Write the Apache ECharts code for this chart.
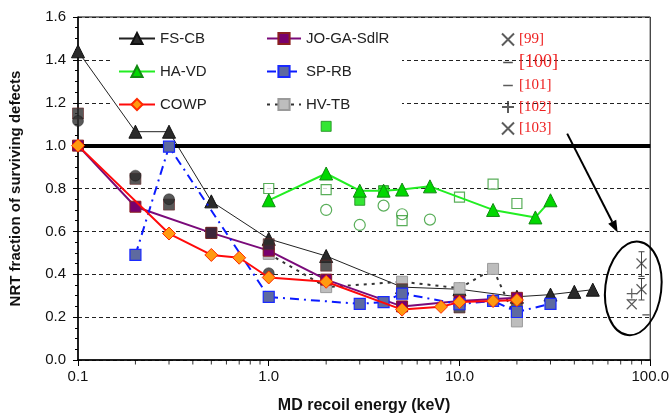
<!DOCTYPE html>
<html><head><meta charset="utf-8">
<script src="https://cdn.jsdelivr.net/npm/echarts@6/dist/echarts.min.js"></script>
<style>html,body{margin:0;padding:0;background:#fff}#c{width:672px;height:419px}</style>
</head><body><div id="c"></div>
<script>
// ---- data (energy keV, NRT fraction) ----
const fsCbE = [0.1, 0.2, 0.3, 0.5, 1, 2, 5, 10, 20, 30, 40, 50];
const fsCbV = [1.44, 1.065, 1.065, 0.74, 0.565, 0.485, 0.34, 0.33, 0.295, 0.305, 0.318, 0.328];
const haVdE = [1, 2, 3, 4, 5, 7, 15, 25, 30];
const haVdV = [0.745, 0.87, 0.79, 0.79, 0.795, 0.81, 0.70, 0.665, 0.745];
const cowpE = [0.1, 0.3, 0.5, 0.7, 1, 2, 5, 8, 10, 15, 20];
const cowpV = [1.0, 0.59, 0.49, 0.477, 0.385, 0.365, 0.235, 0.248, 0.27, 0.275, 0.28];
const joGaE = [0.1, 0.2, 0.5, 1, 2, 5, 10, 20];
const joGaV = [1.0, 0.715, 0.593, 0.51, 0.375, 0.25, 0.275, 0.29];
const spRbE = [0.2, 0.3, 1, 3, 4, 5, 10, 15, 20, 30];
const spRbV = [0.49, 0.995, 0.294, 0.262, 0.27, 0.31, 0.26, 0.276, 0.224, 0.262];
const hvTbE = [1, 2, 5, 10, 15, 20];
const hvTbV = [0.495, 0.34, 0.365, 0.335, 0.425, 0.18];
// unlabelled data sets
const blackSqE = [0.1, 0.2, 0.3, 0.5, 1, 2, 5, 10, 20];
const blackSqV = [1.15, 0.845, 0.725, 0.593, 0.54, 0.44, 0.33, 0.245, 0.25];
const blackCircE = [0.1, 0.2, 0.3, 1];
const blackCircV = [1.115, 0.86, 0.75, 0.405];
const greenOpenSqE = [1, 2, 5, 10, 15, 20];
const greenOpenSqV = [0.80, 0.795, 0.65, 0.76, 0.82, 0.73];
const greenFillSqE = [2, 3, 4];
const greenFillSqV = [1.09, 0.745, 0.79];
const greenCircE = [2, 3, 4, 5, 7];
const greenCircV = [0.70, 0.63, 0.72, 0.68, 0.655];
// literature references
const ref99E = [90]; const ref99V = [0.45];
const ref100E = [80, 95]; const ref100V = [0.28, 0.21];
const ref101E = [90]; const ref101V = [0.38];
const ref102E = [80]; const ref102V = [0.31];
const ref103E = [90, 80]; const ref103V = [0.33, 0.26];
const errE = [90, 90]; const errLo = [0.39, 0.28]; const errHi = [0.505, 0.38];
// axes
const xMinorTicks = [0.2,0.3,0.4,0.5,0.6,0.7,0.8,0.9,2,3,4,5,6,7,8,9,20,30,40,50,60,70,80,90];
const refLineValue = 1.0;
const ellipseCenter = [81.5, 0.334];
const arrowFrom = [36.7, 1.056];
const arrowTo = [67.5, 0.595];

const pts = (xs, ys) => xs.map((x, i) => [x, ys[i]]);
const FONT = 'Liberation Sans, Arial, sans-serif';
const SERIF = 'Liberation Serif, Times New Roman, serif';
const CROSS = 'path://M0,0L10,10M10,0L0,10';
const PLUS = 'path://M5,0L5,10M0,5L10,5';
// horizontal dash inside a square bounding box (tiny corner dots keep the aspect)
const DASH = 'path://M1,4.3h8v1.4h-8zM0,0h0.01v0.01h-0.01zM9.99,9.99h0.01v0.01h-0.01z';

const chart = echarts.init(document.getElementById('c'), null, {renderer: 'canvas'});
const option = {
  animation: false,
  backgroundColor: '#fff',
  grid: {left: 78, right: 21, top: 17, bottom: 58, show: true, borderColor: '#000', borderWidth: 1, backgroundColor: 'transparent'},
  xAxis: {
    type: 'log', logBase: 10, min: 0.1, max: 100, splitNumber: 3,
    name: 'MD recoil energy (keV)', nameLocation: 'middle', nameGap: 38,
    nameTextStyle: {fontFamily: FONT, fontWeight: 'bold', fontSize: 16, color: '#111'},
    axisLine: {show: true, lineStyle: {color: '#000', width: 1.5}},
    axisTick: {show: true, length: 6, lineStyle: {color: '#000', width: 1}},
    minorTick: {show: false},
    axisLabel: {fontFamily: FONT, fontSize: 15, color: '#111', margin: 9, formatter: v => Number(v).toFixed(1)},
    splitLine: {show: false}
  },
  yAxis: {
    type: 'value', min: 0, max: 1.6, interval: 0.2,
    name: 'NRT fraction of surviving defects', nameLocation: 'middle', nameGap: 55,
    nameTextStyle: {fontFamily: FONT, fontWeight: 'bold', fontSize: 15, color: '#111'},
    axisLine: {show: true, lineStyle: {color: '#000', width: 1.5}},
    axisTick: {show: true, length: 5, lineStyle: {color: '#000'}},
    minorTick: {show: true, splitNumber: 4, length: 3, lineStyle: {color: '#000'}},
    minorSplitLine: {show: false},
    axisLabel: {fontFamily: FONT, fontSize: 15, color: '#111', margin: 12, formatter: v => Number(v).toFixed(1)},
    splitLine: {show: true, lineStyle: {color: '#222', width: 1.2, type: [4, 3]}}
  },
  legend: [
    {orient: 'vertical', left: 118, top: 31, padding: 0, itemWidth: 36, itemHeight: 14, itemGap: 18,
     data: ['FS-CB', 'HA-VD', 'COWP'],
     textStyle: {fontFamily: FONT, fontSize: 15, color: '#222', lineHeight: 14}},
    {orient: 'vertical', left: 266, top: 31, padding: 0, itemWidth: 34, itemHeight: 14, itemGap: 18,
     data: ['JO-GA-SdlR', 'SP-RB', 'HV-TB'],
     textStyle: {fontFamily: FONT, fontSize: 15, color: '#222', lineHeight: 14}},
    {orient: 'vertical', left: 501, top: 32, padding: 0, itemWidth: 12, itemHeight: 12, itemGap: 6.5,
     data: ['[99]', '[100]', '[101]', '[102]', '[103]'],
     formatter: n => n === '[100]' ? '{big|' + n + '}' : n,
     textStyle: {fontFamily: SERIF, fontSize: 15, color: '#ee2020', lineHeight: 12,
       rich: {big: {fontFamily: SERIF, fontSize: 18, color: '#ee2020', lineHeight: 12}}}}
  ],
  series: [
    {name: 'xminor', type: 'scatter', data: xMinorTicks.map(v => [v, 0]), symbol: 'rect', symbolSize: [1, 4],
     symbolOffset: [0, 2.5], itemStyle: {color: '#000'}, silent: true, clip: false, z: 10},
    {name: 'greenOpenSq', type: 'scatter', data: pts(greenOpenSqE, greenOpenSqV), symbol: 'rect', symbolSize: 10,
     itemStyle: {color: '#fff', borderColor: '#2f9a2f', borderWidth: 1.2}, z: 2},
    {name: 'greenCirc', type: 'scatter', data: pts(greenCircE, greenCircV), symbol: 'circle', symbolSize: 11,
     itemStyle: {color: 'transparent', borderColor: '#2f9a2f', borderWidth: 1.2}, z: 2},
    {name: 'greenFillSq', type: 'scatter', data: pts(greenFillSqE, greenFillSqV), symbol: 'rect', symbolSize: 10,
     itemStyle: {color: '#00e000', borderColor: '#1a8a1a', borderWidth: 1}, z: 2},
    {name: 'HA-VD', type: 'line', data: pts(haVdE, haVdV), symbol: 'triangle', symbolSize: 13, showAllSymbol: true,
     lineStyle: {color: '#22ee22', width: 2}, itemStyle: {color: '#00d800', borderColor: '#118811', borderWidth: 1}, z: 3},
    {name: 'FS-CB', type: 'line', data: pts(fsCbE, fsCbV), symbol: 'triangle', symbolSize: 13, showAllSymbol: true,
     lineStyle: {color: '#222', width: 1}, itemStyle: {color: '#2a2a2a', borderColor: '#111', borderWidth: 1}, z: 3,
     markLine: {silent: true, symbol: 'none', label: {show: false},
       lineStyle: {color: '#000', width: 4, type: 'solid'}, data: [{yAxis: refLineValue}]}},
    {name: 'HV-TB', type: 'line', data: pts(hvTbE, hvTbV), symbol: 'rect', symbolSize: 11, showAllSymbol: true,
     lineStyle: {color: '#333', width: 2, type: [3, 5]}, itemStyle: {color: '#bdbdbd', borderColor: '#9a9a9a', borderWidth: 1}, z: 4},
    {name: 'JO-GA-SdlR', type: 'line', data: pts(joGaE, joGaV), symbol: 'rect', symbolSize: 11, showAllSymbol: true,
     lineStyle: {color: '#7a0a7a', width: 2}, itemStyle: {color: '#78006e', borderColor: '#8b2020', borderWidth: 1}, z: 5},
    {name: 'blackSq', type: 'scatter', data: pts(blackSqE, blackSqV), symbol: 'rect', symbolSize: 11,
     itemStyle: {color: '#2e2e2e', borderColor: '#6a2a2a', borderWidth: 0.8}, z: 6},
    {name: 'blackCirc', type: 'scatter', data: pts(blackCircE, blackCircV), symbol: 'circle', symbolSize: 11,
     itemStyle: {color: '#2e2e2e', borderColor: '#111', borderWidth: 0.5}, z: 6},
    {name: 'SP-RB', type: 'line', data: pts(spRbE, spRbV), symbol: 'rect', symbolSize: 11, showAllSymbol: true,
     lineStyle: {color: '#0a1aff', width: 2, type: [9, 5, 2, 5]}, itemStyle: {color: '#5e6aa0', borderColor: '#1a2aff', borderWidth: 1.2}, z: 7},
    {name: 'COWP', type: 'line', data: pts(cowpE, cowpV), symbol: 'diamond', symbolSize: 13, showAllSymbol: true,
     lineStyle: {color: '#ff0a0a', width: 2}, itemStyle: {color: '#ff9a10', borderColor: '#ff2a00', borderWidth: 1}, z: 8},
    {name: 'errbars', type: 'custom', z: 8, silent: true,
     data: errE.map((x, i) => [x, errLo[i], errHi[i]]),
     renderItem: (params, api) => {
       const a = api.coord([api.value(0), api.value(1)]);
       const b = api.coord([api.value(0), api.value(2)]);
       const st = {stroke: '#444', lineWidth: 1};
       return {type: 'group', children: [
         {type: 'line', shape: {x1: a[0], y1: a[1], x2: b[0], y2: b[1]}, style: st},
         {type: 'line', shape: {x1: a[0] - 3, y1: a[1], x2: a[0] + 3, y2: a[1]}, style: st},
         {type: 'line', shape: {x1: b[0] - 3, y1: b[1], x2: b[0] + 3, y2: b[1]}, style: st}
       ]};
     }},
    {name: '[99]', type: 'scatter', data: pts(ref99E, ref99V), symbol: CROSS, symbolSize: 10,
     itemStyle: {color: 'transparent', borderColor: '#333', borderWidth: 1.2}, z: 9},
    {name: '[100]', type: 'scatter', data: pts(ref100E, ref100V), symbol: DASH, symbolSize: 9, symbolKeepAspect: true,
     itemStyle: {color: '#222'}, z: 9},
    {name: '[101]', type: 'scatter', data: pts(ref101E, ref101V), symbol: DASH, symbolSize: 8, symbolKeepAspect: true,
     itemStyle: {color: '#333'}, z: 9},
    {name: '[102]', type: 'scatter', data: pts(ref102E, ref102V), symbol: PLUS, symbolSize: 10,
     itemStyle: {color: 'transparent', borderColor: '#333', borderWidth: 1.2}, z: 9},
    {name: '[103]', type: 'scatter', data: pts(ref103E, ref103V), symbol: CROSS, symbolSize: 10,
     itemStyle: {color: 'transparent', borderColor: '#333', borderWidth: 1.2}, z: 9}
  ]
};
chart.setOption(option);

// annotations positioned from data coordinates
const px = p => chart.convertToPixel({gridIndex: 0}, p);
const c = px(ellipseCenter), a0 = px(arrowFrom), a1 = px(arrowTo);
const ang = Math.atan2(a1[1] - a0[1], a1[0] - a0[0]);
const hl = 12, hw = 4.5;
const bx = a1[0] - hl * Math.cos(ang), by = a1[1] - hl * Math.sin(ang);
const nx = -Math.sin(ang) * hw, ny = Math.cos(ang) * hw;
chart.setOption({
  graphic: [
    {type: 'rect', z: 1, shape: {x: 110, y: 50, width: 292, height: 62}, style: {fill: '#fff'}, silent: true},
    {type: 'line', z: 20, shape: {x1: a0[0], y1: a0[1], x2: bx, y2: by}, style: {stroke: '#000', lineWidth: 2}, silent: true},
    {type: 'polygon', z: 20, shape: {points: [[a1[0], a1[1]], [bx + nx, by + ny], [bx - nx, by - ny]]}, style: {fill: '#000'}, silent: true},
    {type: 'ellipse', z: 20, x: c[0], y: c[1], rotation: -0.12, shape: {cx: 0, cy: 0, rx: 28, ry: 47},
     style: {fill: 'none', stroke: '#000', lineWidth: 2}, silent: true}
  ]
});
</script>
</body></html>
